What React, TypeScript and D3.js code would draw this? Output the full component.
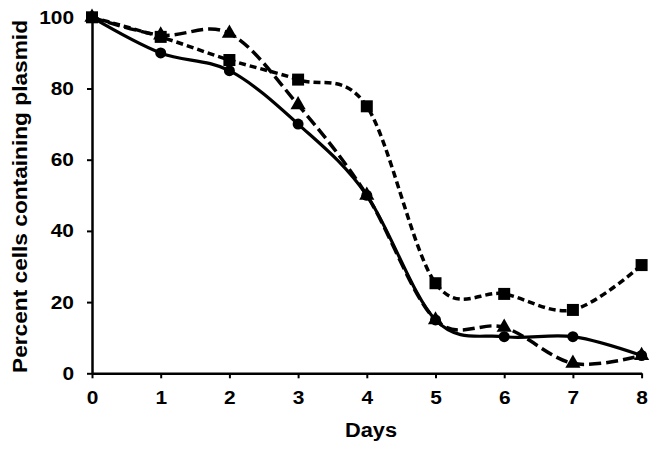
import React, { useEffect, useRef } from 'react';
import * as d3 from 'd3';

const days = [0, 1, 2, 3, 4, 5, 6, 7, 8];
const circleSeries = [100, 90, 85, 70, 50, 15, 10.3, 10.3, 5];
const triangleSeries = [100, 95, 95.5, 75.4, 50, 15, 12.9, 2.8, 5];
const squareSeries = [100, 94.5, 88, 82.5, 75, 25.3, 22.3, 17.8, 30.4];
const yTicks = [0, 20, 40, 60, 80, 100];

const FONT = '"Liberation Sans", Arial, Helvetica, sans-serif';

function PlasmidChart() {
  const svgRef = useRef(null);

  useEffect(() => {
    const svg = d3.select(svgRef.current);
    svg.selectAll('*').remove();

    const x = d3.scaleLinear().domain([0, 8]).range([92, 641.6]);
    const y = d3.scaleLinear().domain([0, 100]).range([373.3, 17.3]);

    // axes
    const xAxis = svg
      .append('g')
      .attr('transform', `translate(0,${y(0)})`)
      .call(d3.axisBottom(x).tickValues(days).tickSize(5).tickSizeOuter(0).tickPadding(12));
    const yAxis = svg
      .append('g')
      .attr('transform', `translate(${x(0)},0)`)
      .call(d3.axisLeft(y).tickValues(yTicks).tickSize(5).tickSizeOuter(0).tickPadding(13));

    [xAxis, yAxis].forEach((g) => {
      g.select('.domain').attr('stroke', '#000').attr('stroke-width', 2.5);
      g.selectAll('.tick line').attr('stroke', '#000').attr('stroke-width', 2);
      g.selectAll('.tick text')
        .attr('fill', '#000')
        .style('font-family', FONT)
        .style('font-weight', 'bold')
        .style('font-size', '19px')
        .each(function () {
          // the original glyphs are a bit wider than Liberation's
          const w = this.getComputedTextLength();
          d3.select(this).attr('textLength', w * 1.1).attr('lengthAdjust', 'spacingAndGlyphs');
        });
    });

    svg
      .append('text')
      .attr('x', 371)
      .attr('y', 437)
      .attr('text-anchor', 'middle')
      .attr('textLength', 52)
      .attr('lengthAdjust', 'spacingAndGlyphs')
      .style('font-family', FONT)
      .style('font-weight', 'bold')
      .style('font-size', '20px')
      .text('Days');

    svg
      .append('text')
      .attr('transform', `translate(27,196.5) rotate(-90)`)
      .attr('text-anchor', 'middle')
      .attr('textLength', 353)
      .attr('lengthAdjust', 'spacingAndGlyphs')
      .style('font-family', FONT)
      .style('font-weight', 'bold')
      .style('font-size', '21px')
      .text('Percent cells containing plasmid');

    const line = d3
      .line()
      .x((d, i) => x(days[i]))
      .y((d) => y(d))
      .curve(d3.curveCardinal.tension(0));

    // solid line with circles
    svg
      .append('path')
      .attr('d', line(circleSeries))
      .attr('fill', 'none')
      .attr('stroke', '#000')
      .attr('stroke-width', 3.2);

    // long dashes with triangles
    svg
      .append('path')
      .attr('d', line(triangleSeries))
      .attr('fill', 'none')
      .attr('stroke', '#000')
      .attr('stroke-width', 3.5)
      .attr('stroke-dasharray', '12,5');

    // short dashes with squares
    svg
      .append('path')
      .attr('d', line(squareSeries))
      .attr('fill', 'none')
      .attr('stroke', '#000')
      .attr('stroke-width', 3.5)
      .attr('stroke-dasharray', '7,4');

    svg
      .append('g')
      .selectAll('circle')
      .data(circleSeries)
      .join('circle')
      .attr('cx', (d, i) => x(days[i]))
      .attr('cy', (d) => y(d))
      .attr('r', 5.5)
      .attr('fill', '#000');

    svg
      .append('g')
      .selectAll('path')
      .data(triangleSeries)
      .join('path')
      .attr('transform', (d, i) => `translate(${x(days[i])},${y(d)})`)
      .attr('d', d3.symbol(d3.symbolTriangle, 100)())
      .attr('fill', '#000');

    svg
      .append('g')
      .selectAll('rect')
      .data(squareSeries)
      .join('rect')
      .attr('x', (d, i) => x(days[i]) - 6)
      .attr('y', (d) => y(d) - 6)
      .attr('width', 12)
      .attr('height', 12)
      .attr('fill', '#000');
  }, []);

  return (
    <svg
      ref={svgRef}
      width={657}
      height={449}
      style={{ position: 'absolute', left: 0, top: 0, background: '#fff' }}
      xmlns="http://www.w3.org/2000/svg"
    />
  );
}

export default function App() {
  return <PlasmidChart />;
}
